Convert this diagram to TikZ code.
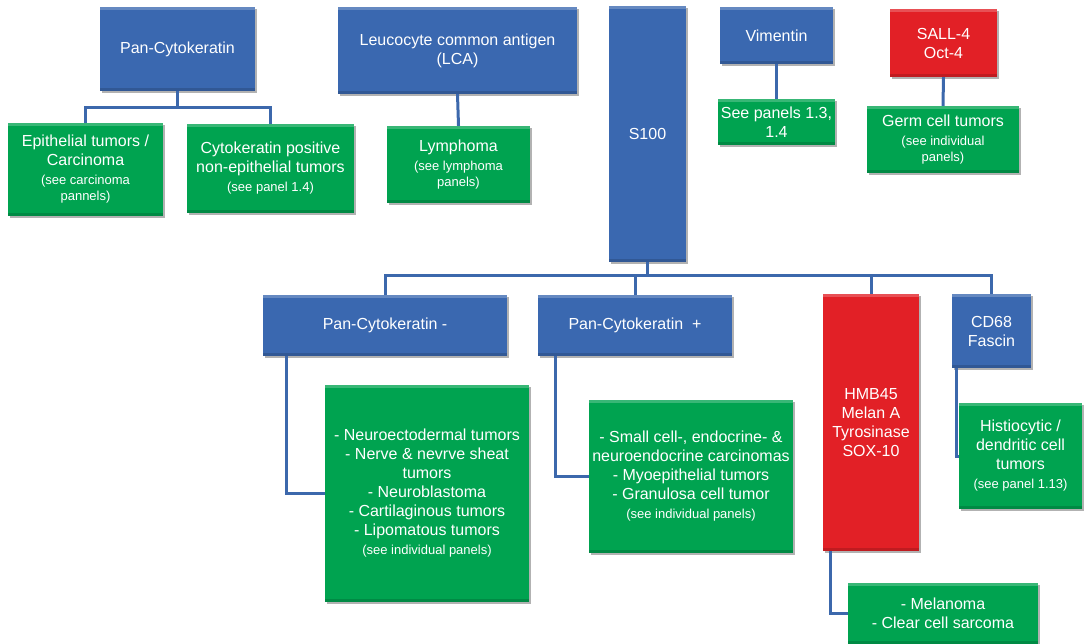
\documentclass[tikz,border=0pt]{standalone}
\usepackage{fontspec}
\setmainfont{Liberation Sans}
\usetikzlibrary{shadows,calc}
\definecolor{bxblue}{RGB}{58,104,176}
\definecolor{bxgreen}{RGB}{0,163,80}
\definecolor{bxred}{RGB}{226,32,38}
\definecolor{lnblue}{RGB}{60,104,172}
\newcommand{\sm}{\fontsize{13}{16}\selectfont}
\begin{document}
\begin{tikzpicture}[x=1pt,y=-1pt,
  box/.style={rectangle, inner sep=2pt, text=white, align=center,
    font=\fontsize{16}{19}\selectfont,
    drop shadow={shadow xshift=1.5pt,shadow yshift=-2pt,opacity=0.3,fill=black},
    path picture={
      \fill[white,opacity=0.22] (path picture bounding box.north west) rectangle ([yshift=-3pt]path picture bounding box.north east);
      \fill[black,opacity=0.15] (path picture bounding box.south west) rectangle ([yshift=3pt]path picture bounding box.south east);}},
  bluebox/.style={box, fill=bxblue},
  greenbox/.style={box, fill=bxgreen},
  redbox/.style={box, fill=bxred},
  conn/.style={draw=lnblue, line width=3pt}]
\useasboundingbox (0,0) rectangle (1084,644);

% top row
\node[bluebox, minimum width=155pt, minimum height=84pt] (pck) at (177.5,49) {Pan-Cytokeratin};
\node[bluebox, minimum width=239pt, minimum height=87pt] (lca) at (457.5,50.5) {Leucocyte common antigen\\(LCA)};
\node[bluebox, minimum width=77pt, minimum height=256pt] (s100) at (647.5,134) {S100};
\node[bluebox, minimum width=113pt, minimum height=57pt] (vim) at (776.5,35.5) {Vimentin};
\node[redbox, minimum width=107pt, minimum height=68pt] (sall) at (943.5,43) {SALL-4\\Oct-4};

% second row
\node[greenbox, minimum width=155pt, minimum height=93pt] (epi) at (85.5,169.5) {Epithelial tumors /\\Carcinoma\\\sm (see carcinoma\\[-3pt]\sm pannels)};
\node[greenbox, minimum width=167pt, minimum height=89pt] (ckpos) at (270.5,168.5) {Cytokeratin positive\\non-epithelial tumors\\\sm (see panel 1.4)};
\node[greenbox, minimum width=143pt, minimum height=77pt] (lym) at (458.5,164.5) {Lymphoma\\\sm (see lymphoma\\[-3pt]\sm panels)};
\node[greenbox, minimum width=117pt, minimum height=46pt] (seep) at (776.5,122) {See panels 1.3,\\1.4};
\node[greenbox, minimum width=152pt, minimum height=67pt] (germ) at (943,139.5) {Germ cell tumors\\\sm (see individual\\[-3pt]\sm panels)};

% S100 children
\node[bluebox, minimum width=244pt, minimum height=61pt] (pckm) at (385,325.5) {Pan-Cytokeratin -};
\node[bluebox, minimum width=194pt, minimum height=61pt] (pckp) at (635,325.5) {Pan-Cytokeratin~ +};
\node[redbox, minimum width=96pt, minimum height=257pt] (hmb) at (871,422.5) {HMB45\\Melan A\\Tyrosinase\\SOX-10};
\node[bluebox, minimum width=79pt, minimum height=74pt] (cd68) at (991.5,331) {CD68\\Fascin};

% bottom row
\node[greenbox, minimum width=204pt, minimum height=217pt] (neuro) at (427,493.5) {- Neuroectodermal tumors\\- Nerve \& nevrve sheat\\tumors\\- Neuroblastoma\\- Cartilaginous tumors\\- Lipomatous tumors\\\sm (see individual panels)};
\node[greenbox, minimum width=204pt, minimum height=153pt] (small) at (691,476.5) {- Small cell-, endocrine- \&\\neuroendocrine carcinomas\\- Myoepithelial tumors\\- Granulosa cell tumor\\\sm (see individual panels)};
\node[greenbox, minimum width=123pt, minimum height=106pt] (histio) at (1020.5,456) {Histiocytic /\\dendritic cell\\tumors\\\sm (see panel 1.13)};
\node[greenbox, minimum width=190pt, minimum height=61pt] (mel) at (943,613.5) {- Melanoma\\- Clear cell sarcoma};

% connectors
\draw[conn] (pck.south) -- ++(0,16) -| (epi.north);
\draw[conn] (pck.south) -- ++(0,16) -| (ckpos.north);
\draw[conn] (lca.south) -- (lym.north);
\draw[conn] (vim.south) -- (seep.north);
\draw[conn] (sall.south) -- (germ.north);
\draw[conn] (s100.south) -- ++(0,13.5) -| (pckm.north);
\draw[conn] (s100.south) -- ++(0,13.5) -| (pckp.north);
\draw[conn] (s100.south) -- ++(0,13.5) -| (hmb.north);
\draw[conn] (s100.south) -- ++(0,13.5) -| (cd68.north);
\draw[conn] ($(pckm.south west)+(24,0)$) |- (neuro.west);
\draw[conn] ($(pckp.south west)+(18,0)$) |- (small.west);
\draw[conn] ($(hmb.south west)+(8,0)$) |- (mel.west);
\draw[conn] ($(cd68.south west)+(5,0)$) |- (histio.west);
\end{tikzpicture}
\end{document}
